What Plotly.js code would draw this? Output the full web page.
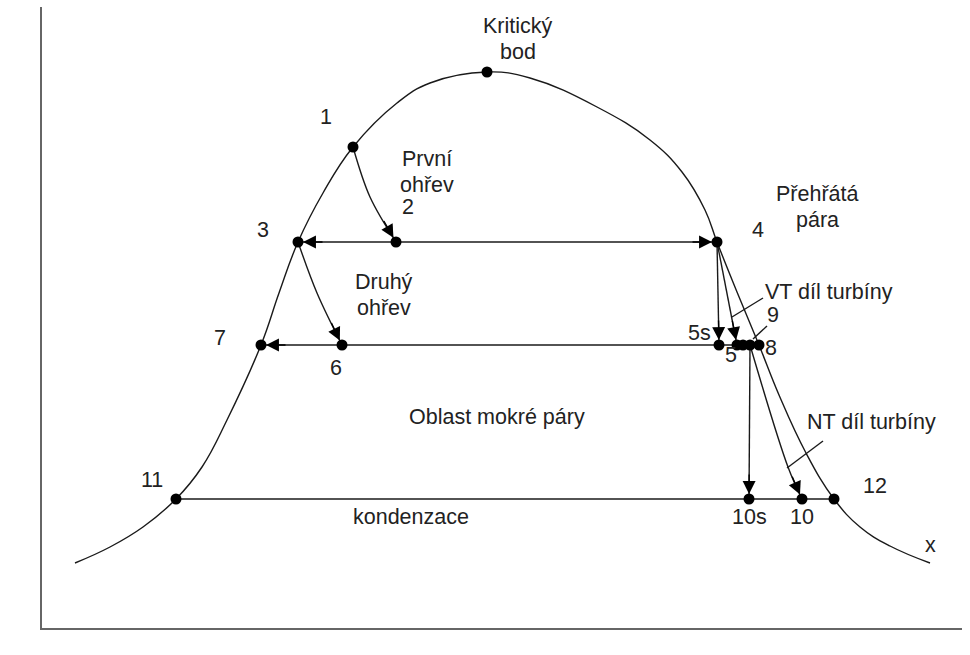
<!DOCTYPE html>
<html>
<head>
<meta charset="utf-8">
<script src="https://cdn.plot.ly/plotly-3.0.1.min.js"></script>
<style>html,body{margin:0;padding:0;background:#fff;}#chart{width:970px;height:655px;}</style>
</head>
<body>
<div id="chart"></div>
<script>
// Saturation dome (s, T in schematic units)
var domeS = [75,110,143,176,202,227,261,279,298,323,353,397,430,487,530,597,650,682,705,717,737,759,779,806,834,860,890,930];
var domeT = [92,108,128,156,188,235,310,362,413,462,508,552,572,583,577,548,515,483,445,413,363,310,260,202,156,128,109,92];

// Process paths
var p12S = [353,370,396],   p12T = [508,458,413];   // 1 -> 2 (first reheat)
var p36S = [298,317,342],   p36T = [413,362,310];   // 3 -> 6 (second reheat)
var p34S = [298,396,717],   p34T = [413,413,413];   // 3 - 2 - 4
var p78S = [261,342,719,759], p78T = [310,310,310,310]; // 7 - 6 - 5s - 8
var p45sS = [717,719],      p45sT = [413,310];      // 4 -> 5s
var p45S = [717,737],       p45T = [413,310];       // 4 -> 5
var p910sS = [750,749],     p910sT = [310,156];     // 9 -> 10s
var p910S = [750,788,802],  p910T = [310,188,156];  // 9 -> 10
var p1112S = [176,834],     p1112T = [156,156];     // condensation 11 - 12

// State points
var ptName = ['K','1','2','3','4','5s','5','5b','9','8','6','7','10s','10','11','12'];
var ptS    = [487,353,396,298,717,719,737,743,750,759,342,261,749,802,176,834];
var ptT    = [583,508,413,413,413,310,310,310,310,310,310,310,156,156,156,156];

// Leader lines
var leadVTS = [763,732], leadVTT = [357,338];
var lead9S  = [767,753], lead9T  = [329,316];
var leadNTS = [823,787], leadNTT = [214,187];

var LC = '#1a1a1a';
function line(xs, ys, spline, sm){
  return {x: xs, y: ys, type: 'scatter', mode: 'lines', hoverinfo: 'skip',
    line: {color: LC, width: 1.4, shape: spline ? 'spline' : 'linear', smoothing: sm || 1}};
}
var traces = [
  line(domeS, domeT, true, 1.2),
  line(p12S, p12T, true),
  line(p36S, p36T, true),
  line(p34S, p34T, false),
  line(p78S, p78T, false),
  line(p45sS, p45sT, false),
  line(p45S, p45T, false),
  line(p910sS, p910sT, false),
  line(p910S, p910T, true),
  line(p1112S, p1112T, false),
  line(leadVTS, leadVTT, false),
  line(lead9S, lead9T, false),
  line(leadNTS, leadNTT, false),
  {x: ptS, y: ptT, text: ptName, type: 'scatter', mode: 'markers', hoverinfo: 'skip',
   marker: {color: '#000', size: 11}}
];

// Arrowheads built from path ends
function arrow(xs, ys, atStart){
  var n = xs.length;
  var x = atStart ? xs[0] : xs[n-1], y = atStart ? ys[0] : ys[n-1];
  var px = atStart ? xs[1] : xs[n-2], py = atStart ? ys[1] : ys[n-2];
  var dx = x - px, dy = y - py, L = Math.sqrt(dx*dx + dy*dy);
  return {x: x, y: y, ax: x - 26*dx/L, ay: y - 26*dy/L, xref: 'x', yref: 'y', axref: 'x', ayref: 'y',
    text: '', showarrow: true, arrowhead: 2, arrowsize: 1.85, arrowwidth: 1.4, arrowcolor: '#000', standoff: 5};
}
var anns = [
  arrow(p12S, p12T, false),
  arrow(p36S, p36T, false),
  arrow(p34S, p34T, true),
  arrow(p34S, p34T, false),
  arrow(p78S.slice(0,2), p78T.slice(0,2), true),
  arrow(p45sS, p45sT, false),
  arrow(p45S, p45T, false),
  arrow(p910sS, p910sT, false),
  arrow(p910S, p910T, false)
];

var FONT = {family: 'Liberation Sans, Arial, sans-serif', size: 21.5, color: '#222'};
function lab(t, x, y, xa){
  return {text: t, x: x, y: y, xref: 'x', yref: 'y', showarrow: false, font: FONT,
    xanchor: xa || 'center', yanchor: 'middle'};
}
anns = anns.concat([
  lab('T', 16, 616), lab('s', 952, 9), lab('x', 930, 110),
  lab('Kritický', 518, 629), lab('bod', 518, 603),
  lab('1', 326, 538),
  lab('První', 427, 496), lab('ohřev', 427, 470),
  lab('2', 408, 448),
  lab('3', 263, 425), lab('4', 758, 425),
  lab('Přehřátá', 817, 461), lab('pára', 817, 435),
  lab('Druhý', 384, 373), lab('ohřev', 384, 347),
  lab('VT díl turbíny', 763, 363, 'left'),
  lab('9', 773, 340), lab('5s', 699, 322), lab('7', 220, 317),
  lab('5', 731, 300), lab('8', 771, 307), lab('6', 336, 287),
  lab('Oblast mokré páry', 497, 238),
  lab('NT díl turbíny', 805, 233, 'left'),
  lab('11', 152, 175), lab('12', 875, 169),
  lab('10s', 749, 138), lab('10', 802, 138),
  lab('kondenzace', 411, 138)
]);

var axisCommon = {showline: true, linecolor: '#666', linewidth: 2, showticklabels: false,
  ticks: '', showgrid: false, zeroline: false, fixedrange: true};
var layout = {
  width: 970, height: 655,
  margin: {l: 42, r: 8, t: 7, b: 27, pad: 0},
  paper_bgcolor: '#fff', plot_bgcolor: '#fff',
  showlegend: false,
  xaxis: Object.assign({range: [42, 962]}, axisCommon),
  yaxis: Object.assign({range: [27, 648]}, axisCommon),
  annotations: anns
};
Plotly.newPlot('chart', traces, layout, {staticPlot: true, displayModeBar: false});
</script>
</body>
</html>
